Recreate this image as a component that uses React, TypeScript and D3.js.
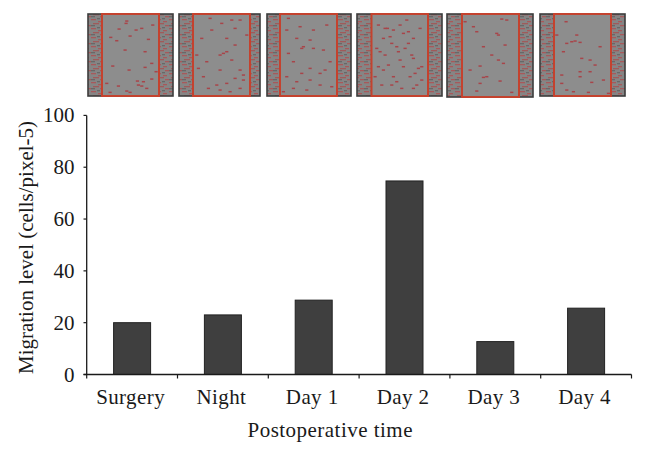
import React from "react";
import * as d3 from "d3";

const categories = ["Surgery", "Night", "Day 1", "Day 2", "Day 3", "Day 4"];
const values = [20, 23, 28.7, 74.7, 12.7, 25.6];
const yTicks = [0, 20, 40, 60, 80, 100];

const panelLefts = [88, 179, 267, 357, 447, 540];
const panelRights = [173, 260, 351, 442, 533, 625];
const gateLefts = [102, 193, 280, 371.5, 462, 554];
const gateRights = [159, 250, 337, 428, 519, 611];
const panelBottoms = [96, 96, 96, 96, 97, 96];
const cropOrigins = [80, 80, 80, 350, 350, 350];

const specks: number[][][] = [
  [[140,48],[138,55],[117,72],[168,75],[185,70],[218,60],[92,97],[110,107],[150,93],[205,103],[135,135],[195,140],[98,183],[147,195],[195,187],[215,175],[228,200],[215,222],[190,230],[175,240],[185,243],[200,250],[115,243],[140,258],[80,235],[90,262],[150,262],[172,228]],
  [[390,40],[425,55],[455,45],[480,45],[395,75],[465,70],[365,100],[440,100],[500,90],[465,120],[430,145],[420,150],[440,140],[350,150],[455,165],[380,170],[480,195],[490,210],[355,190],[420,195],[370,215],[465,220],[490,225],[410,240],[440,235],[385,250],[420,255],[450,260],[480,250]],
  [[625,40],[660,65],[700,75],[740,60],[620,75],[650,100],[690,105],[665,130],[670,125],[700,130],[730,135],[625,145],[640,170],[750,170],[735,195],[720,205],[665,205],[690,190],[620,215],[650,230],[690,225],[720,240],[755,245],[640,250],[680,255],[610,260]],
  [[105,70],[130,75],[160,85],[175,80],[100,100],[125,115],[140,125],[175,115],[90,140],[105,150],[185,150],[190,160],[150,165],[85,185],[100,195],[205,190],[215,185],[160,185],[130,215],[180,215],[95,240],[125,240],[155,250],[190,250],[200,240],[215,225],[80,130],[150,60],[210,70],[190,100],[115,180],[145,140],[170,45],[85,60],[120,95],[165,130],[195,205],[75,215],[140,230],[112,70]],
  [[370,65],[380,80],[345,50],[455,42],[470,45],[440,85],[445,90],[400,125],[465,120],[425,150],[445,165],[460,175],[390,183],[410,215],[400,217],[450,228],[390,235],[380,258],[485,262],[360,195]],
  [[648,50],[680,90],[665,110],[675,108],[690,112],[650,115],[750,125],[640,140],[695,160],[720,165],[735,180],[690,200],[720,200],[635,210],[690,215],[635,235],[725,232],[760,225],[650,255],[670,260],[715,262],[775,265],[620,90]],
];

const FONT = "'Liberation Serif', serif";
const INK = "#1a1a1a";

export default function App() {
  const x = d3.scaleBand().domain(categories).range([86.7, 631.5]);
  const y = d3.scaleLinear().domain([0, 100]).range([374.5, 115.4]);
  const barW = 37;
  const top = 14;

  return (
    <svg width={646} height={456} style={{ position: "absolute", left: 0, top: 0, background: "#fff" }} fontFamily={FONT}>
      <defs>
        <filter id="soft" x="-5%" y="-5%" width="110%" height="110%">
          <feGaussianBlur stdDeviation="0.5" />
        </filter>
        <pattern id="side" width="13" height="9" patternUnits="userSpaceOnUse">
          <rect width="13" height="9" fill="#858585" />
          <rect x="0" y="1" width="5" height="1.3" fill="#a8595a" />
          <rect x="7" y="3" width="4" height="1.3" fill="#a8595a" />
          <rect x="2" y="5" width="6" height="1.3" fill="#a05a5a" />
          <rect x="9" y="7" width="4" height="1.3" fill="#a8595a" />
          <rect x="6" y="0" width="3" height="1.3" fill="#686868" />
          <rect x="0" y="7" width="4" height="1.3" fill="#686868" />
        </pattern>
      </defs>

      {panelLefts.map((l, i) => {
        const r = panelRights[i];
        const b = panelBottoms[i];
        const px = d3.scaleLinear().domain([0, 840]).range([cropOrigins[i], cropOrigins[i] + 280]);
        const py = d3.scaleLinear().domain([0, 300]).range([5, 105]);
        return (
          <g key={i} filter="url(#soft)">
            <rect x={l} y={top} width={r - l} height={b - top} fill="#8d8d8d" />
            <rect x={l} y={top} width={gateLefts[i] - l} height={b - top} fill="url(#side)" />
            <rect x={gateRights[i]} y={top} width={r - gateRights[i]} height={b - top} fill="url(#side)" />
            {specks[i].map(([sx, sy], j) => (
              <rect key={j} x={px(sx) - 1.5} y={py(sy) - 0.7} width={3.2} height={1.5} fill="#a8454a" />
            ))}
            <rect x={l} y={top} width={r - l} height={b - top} fill="none" stroke="#3c3c3c" strokeWidth={1.6} />
            <rect x={gateLefts[i]} y={top} width={gateRights[i] - gateLefts[i]} height={b - top} fill="none" stroke="#c4432f" strokeWidth={2} />
          </g>
        );
      })}

      {categories.map((c, i) => {
        const cx = x(c)! + x.bandwidth() / 2;
        return (
          <rect key={c} x={cx - barW / 2} y={y(values[i])} width={barW} height={y(0) - y(values[i])} fill="#3f3f3f" stroke="#222" strokeWidth={1} />
        );
      })}

      <line x1={86.7} x2={86.7} y1={y(100)} y2={y(0)} stroke={INK} strokeWidth={1.3} />
      <line x1={83.5} x2={631.5} y1={y(0)} y2={y(0)} stroke={INK} strokeWidth={1.3} />
      {yTicks.map((t) => (
        <g key={t}>
          <line x1={83.5} x2={86.7} y1={y(t)} y2={y(t)} stroke={INK} strokeWidth={1.2} />
          <text x={74.5} y={y(t) + 7} textAnchor="end" fontSize={21} fill={INK}>{t}</text>
        </g>
      ))}
      {[...categories.map((c) => x(c)!), 631.5].map((tx, i) => (
        <line key={i} x1={tx} x2={tx} y1={y(0)} y2={y(0) + 4} stroke={INK} strokeWidth={1.2} />
      ))}
      {categories.map((c) => (
        <text key={c} x={x(c)! + x.bandwidth() / 2 - 1.5} y={404} textAnchor="middle" fontSize={21} letterSpacing={0.4} fill={INK}>{c}</text>
      ))}
      <text x={330} y={436.5} textAnchor="middle" fontSize={21} textLength={165} lengthAdjust="spacing" fill={INK}>Postoperative time</text>
      <text transform="translate(33,247.5) rotate(-90)" textAnchor="middle" fontSize={21} fill={INK}>Migration level (cells/pixel-5)</text>
    </svg>
  );
}
